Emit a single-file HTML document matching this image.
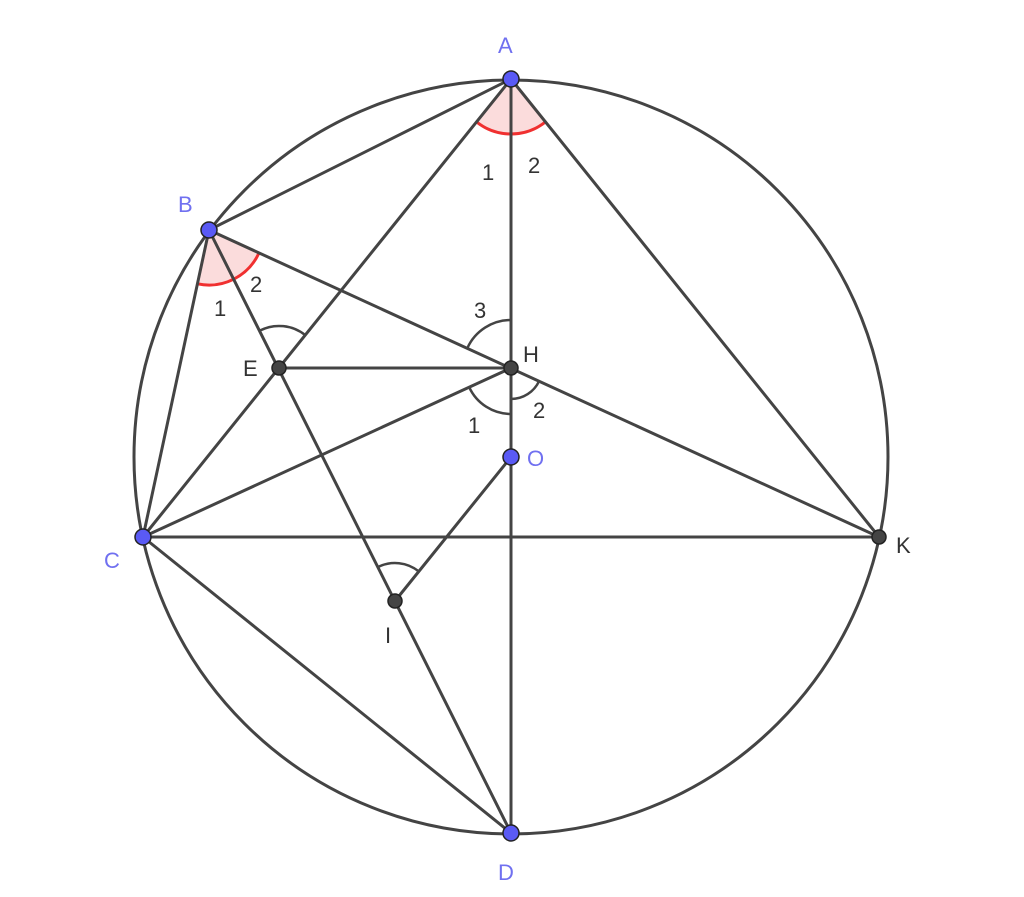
<!DOCTYPE html>
<html><head><style>body{margin:0;background:#fff}svg{display:block}text{font-family:"Liberation Sans",sans-serif;font-size:22px}</style></head><body>
<svg width="1024" height="897" viewBox="0 0 1024 897">
<path d="M511,79 L476.6,121.9 A55,55 0 0 0 545.4,121.9 Z" fill="#fbdcdc" stroke="none"/>
<path d="M476.6,121.9 A55,55 0 0 0 545.4,121.9" fill="none" stroke="#f03030" stroke-width="3"/>
<path d="M209,230 L197.5,283.8 A55,55 0 0 0 259,252.9 Z" fill="#fbdcdc" stroke="none"/>
<path d="M197.5,283.8 A55,55 0 0 0 259,252.9" fill="none" stroke="#f03030" stroke-width="3"/>
<circle cx="511" cy="457" r="377" fill="none" stroke="#444" stroke-width="3"/>
<g stroke="#444" stroke-width="3" fill="none" stroke-linecap="round">
<line x1="511" y1="79" x2="209" y2="230"/>
<line x1="511" y1="79" x2="143" y2="537"/>
<line x1="511" y1="79" x2="879" y2="537"/>
<line x1="511" y1="79" x2="511" y2="833"/>
<line x1="209" y1="230" x2="143" y2="537"/>
<line x1="209" y1="230" x2="879" y2="537"/>
<line x1="209" y1="230" x2="511" y2="833"/>
<line x1="143" y1="537" x2="511" y2="368"/>
<line x1="143" y1="537" x2="879" y2="537"/>
<line x1="143" y1="537" x2="511" y2="833"/>
<line x1="279" y1="368" x2="511" y2="368"/>
<line x1="511" y1="457" x2="395" y2="601"/>
</g>
<g stroke="#444" stroke-width="2.5" fill="none">
<path d="M260,330.5 A42,42 0 0 1 305.3,335.2"/>
<path d="M467.4,348 A48,48 0 0 1 511,320"/>
<path d="M469.2,387.2 A46,46 0 0 0 511,414"/>
<path d="M539.2,380.9 A31,31 0 0 1 511,399"/>
<path d="M378,567 A38,38 0 0 1 418.8,571.4"/>
</g>
<g stroke="#222" stroke-width="1.5">
<circle cx="511" cy="79" r="8" fill="#5a5af5"/>
<circle cx="209" cy="230" r="8" fill="#5a5af5"/>
<circle cx="143" cy="537" r="8" fill="#5a5af5"/>
<circle cx="511" cy="833" r="8" fill="#5a5af5"/>
<circle cx="511" cy="457" r="8" fill="#5a5af5"/>
<circle cx="279" cy="368" r="7" fill="#444"/>
<circle cx="511" cy="368" r="7" fill="#444"/>
<circle cx="395" cy="601" r="7" fill="#444"/>
<circle cx="879" cy="537" r="7" fill="#444"/>
</g>
<g fill="#7070f0">
<text x="498" y="53">A</text>
<text x="178" y="212">B</text>
<text x="104" y="568">C</text>
<text x="498" y="880">D</text>
<text x="527" y="466">O</text>
</g>
<g fill="#333">
<text x="896" y="553">K</text>
<text x="523" y="362">H</text>
<text x="243" y="376">E</text>
<text x="385" y="643">I</text>
<text x="482" y="180">1</text>
<text x="528" y="173">2</text>
<text x="214" y="316">1</text>
<text x="250" y="292">2</text>
<text x="474" y="318">3</text>
<text x="468" y="433">1</text>
<text x="533" y="418">2</text>
</g>
</svg>
</body></html>
